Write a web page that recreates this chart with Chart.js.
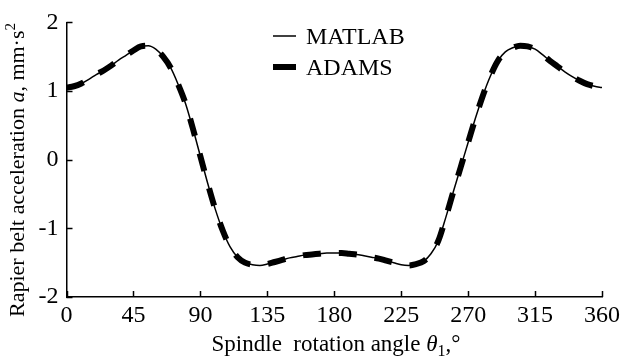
<!DOCTYPE html>
<html>
<head>
<meta charset="utf-8">
<script src="https://cdn.jsdelivr.net/npm/chart.js@4.4.1/dist/chart.umd.min.js"></script>
<style>
  html, body { margin: 0; padding: 0; background: #fff; }
  #wrap { width: 626px; height: 360px; }
</style>
</head>
<body>
<div id="wrap"><canvas id="chart" width="626" height="360"></canvas></div>
<script>
// spindle angle, degrees
const angles = [0, 5, 10, 15, 20, 25, 30, 35, 40, 45, 50, 55, 60, 65, 70, 75, 80, 85, 90,
  95, 100, 105, 110, 115, 120, 125, 130, 135, 140, 145, 150, 155, 160, 165, 170, 175, 180,
  185, 190, 195, 200, 205, 210, 215, 220, 225, 230, 235, 240, 245, 250, 255, 260, 265, 270,
  275, 280, 285, 290, 295, 300, 305, 310, 315, 320, 325, 330, 335, 340, 345, 350, 355, 360];

// acceleration, mm/s^2
const matlabValues = [1.05, 1.07, 1.11, 1.17, 1.24, 1.30, 1.37, 1.45, 1.52, 1.59, 1.65, 1.66, 1.61, 1.50, 1.34, 1.10, 0.82, 0.45, 0.05,
  -0.35, -0.72, -1.03, -1.27, -1.42, -1.50, -1.53, -1.54, -1.52, -1.49, -1.46, -1.43, -1.41, -1.39, -1.38, -1.37, -1.36, -1.36,
  -1.36, -1.37, -1.38, -1.40, -1.42, -1.44, -1.47, -1.50, -1.53, -1.54, -1.52, -1.48, -1.37, -1.18, -0.84, -0.47, -0.11, 0.25,
  0.61, 0.94, 1.22, 1.44, 1.57, 1.63, 1.66, 1.65, 1.61, 1.53, 1.44, 1.36, 1.28, 1.21, 1.15, 1.10, 1.07, 1.05];

const adamsValues = [1.05, 1.07, 1.11, 1.17, 1.24, 1.30, 1.37, 1.45, 1.52, 1.59, 1.65, 1.66, 1.61, 1.50, 1.34, 1.10, 0.82, 0.45, 0.05,
  -0.35, -0.72, -1.03, -1.27, -1.42, -1.50, -1.53, -1.54, -1.52, -1.49, -1.46, -1.43, -1.41, -1.39, -1.38, -1.37, -1.36, -1.36,
  -1.36, -1.37, -1.38, -1.40, -1.42, -1.44, -1.47, -1.50, -1.53, -1.54, -1.52, -1.48, -1.37, -1.18, -0.84, -0.47, -0.11, 0.25,
  0.61, 0.94, 1.22, 1.44, 1.57, 1.63, 1.66, 1.65, 1.61, 1.53, 1.44, 1.36, 1.28, 1.21, 1.15, 1.10, 1.07, 1.05];

const xTicks = [0, 45, 90, 135, 180, 225, 270, 315, 360];
const yTicks = [-2, -1, 0, 1, 2];
const seriesNames = ['MATLAB', 'ADAMS'];

const SERIF = '"Liberation Serif", "Times New Roman", serif';

function toPoints(xs, ys) {
  return xs.map((x, i) => ({ x: x, y: ys[i] }));
}

// draws a run of text pieces (normal / italic / sub / sup) centred on centerX
function drawPieces(ctx, pieces, size, centerX, baseY) {
  const fontOf = p => (p.italic ? 'italic ' : '') + (p.sub || p.sup ? Math.round(size * 0.7) : size) + 'px ' + SERIF;
  let total = 0;
  pieces.forEach(p => { ctx.font = fontOf(p); total += ctx.measureText(p.t).width; });
  let x = centerX - total / 2;
  pieces.forEach(p => {
    ctx.font = fontOf(p);
    let y = baseY;
    if (p.sub) y += size * 0.22;
    if (p.sup) y -= size * 0.4;
    ctx.fillText(p.t, x, y);
    x += ctx.measureText(p.t).width;
  });
}

const extrasPlugin = {
  id: 'extras',
  afterDraw(chart) {
    const ctx = chart.ctx;
    const xs = chart.scales.x, ys = chart.scales.y;
    const area = chart.chartArea;
    ctx.save();
    ctx.strokeStyle = '#000';
    ctx.lineWidth = 1.5;
    // inward ticks
    xTicks.forEach(v => {
      const px = Math.round(xs.getPixelForValue(v)) + 0.5;
      ctx.beginPath();
      ctx.moveTo(px, area.bottom);
      ctx.lineTo(px, area.bottom - 6);
      ctx.stroke();
    });
    yTicks.forEach(v => {
      const py = Math.round(ys.getPixelForValue(v)) + 0.5;
      ctx.beginPath();
      ctx.moveTo(area.left, py);
      ctx.lineTo(area.left + 6, py);
      ctx.stroke();
    });

    ctx.fillStyle = '#000';
    ctx.textAlign = 'left';
    ctx.textBaseline = 'alphabetic';

    // legend
    const ds = chart.data.datasets;
    const rows = [{ y: 36, d: ds[0] }, { y: 67, d: ds[1] }];
    rows.forEach(r => {
      ctx.beginPath();
      ctx.setLineDash([]);
      ctx.lineCap = 'butt';
      ctx.lineWidth = r.d.borderWidth;
      ctx.strokeStyle = r.d.borderColor;
      ctx.moveTo(273, r.y);
      ctx.lineTo(296, r.y);
      ctx.stroke();
      ctx.font = '24px ' + SERIF;
      ctx.fillText(r.d.label, 306, r.y + 8);
    });

    // x title
    drawPieces(ctx, [
      { t: 'Spindle  rotation angle ' },
      { t: 'θ', italic: true },
      { t: '1', sub: true },
      { t: ',°' }
    ], 23, 336, 351);

    // y title
    ctx.translate(24, 170);
    ctx.rotate(-Math.PI / 2);
    drawPieces(ctx, [
      { t: 'Rapier belt acceleration ' },
      { t: 'a', italic: true },
      { t: ', mm·s' },
      { t: '2', sup: true }
    ], 22, 0, 0);
    ctx.restore();
  }
};

new Chart(document.getElementById('chart'), {
  type: 'line',
  data: {
    datasets: [
      {
        label: seriesNames[0],
        data: toPoints(angles, matlabValues),
        borderColor: '#000',
        borderWidth: 1.5,
        pointRadius: 0,
        cubicInterpolationMode: 'monotone',
        fill: false,
        order: 1
      },
      {
        label: seriesNames[1],
        data: toPoints(angles, adamsValues),
        borderColor: '#000',
        borderWidth: 6,
        borderDash: [18, 18],
        borderCapStyle: 'butt',
        pointRadius: 0,
        cubicInterpolationMode: 'monotone',
        fill: false,
        order: 2
      }
    ]
  },
  options: {
    responsive: false,
    animation: false,
    layout: { padding: { top: 22, right: 24, left: 0, bottom: 0 } },
    plugins: {
      legend: { display: false },
      tooltip: { enabled: false }
    },
    scales: {
      x: {
        type: 'linear',
        min: 0,
        max: 360,
        afterBuildTicks: s => { s.ticks = xTicks.map(v => ({ value: v })); },
        afterFit: s => { s.height = 63; },
        grid: { display: true, drawOnChartArea: false, drawTicks: false, tickLength: 0 },
        border: { display: true, color: '#000', width: 1.5 },
        ticks: {
          color: '#000',
          font: { family: SERIF, size: 24 },
          padding: 4,
          maxRotation: 0,
          autoSkip: false
        }
      },
      y: {
        min: -2,
        max: 2,
        afterBuildTicks: s => { s.ticks = yTicks.map(v => ({ value: v })); },
        afterFit: s => { s.width = 66.5; },
        grid: { display: true, drawOnChartArea: false, drawTicks: false, tickLength: 0 },
        border: { display: true, color: '#000', width: 1.5 },
        ticks: {
          color: '#000',
          font: { family: SERIF, size: 24 },
          padding: 8,
          callback: v => String(v)
        }
      }
    }
  },
  plugins: [extrasPlugin]
});
</script>
</body>
</html>
